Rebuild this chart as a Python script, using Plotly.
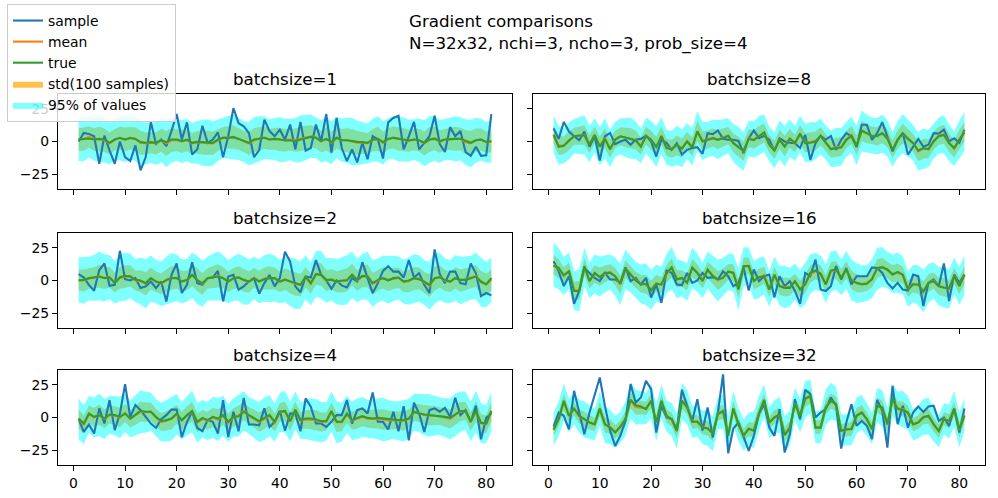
import plotly.graph_objects as go

x_vals = list(range(1, 82))
x_ticks = [0, 10, 20, 30, 40, 50, 60, 70, 80]
y_ticks = [-25, 0, 25]
batch_labels = ["batchsize=1", "batchsize=8", "batchsize=2", "batchsize=16", "batchsize=4", "batchsize=32"]

# ---------------- batchsize=1 ----------------
sample_bs1 = [0, 6.5, 5.8, 4, -17, 4.5, -7, -17, 0, -12,
              -15, -3, -22, -12, 15, -2, 1.5, -3.5, 8, 21,
              1.5, 14.6, -10, -6, 12, -1, 1.5, 7, -12, 4,
              25.5, 14, 11.6, 6.5, -12, -6.5, 16.7, 8, 4, 9,
              1.5, 13, -6, 15, -7, -5, 13, 0, 21, -8.5,
              18, -5, -15, -6, -16, -1, -13.6, 4, 1.5, -13,
              14.6, 18, 19.7, -6, 4, 15, -6, -1, 4, 19.7,
              -2, -8, 11, 4, 8, -8, -11, -4, -11, -10.6,
              21]
true_bs1 = [1.5, 2, 2.3, 1.5, 2, 1.5, -1, 1.5, 2.8, 1.5,
            2.8, 2, -0.5, -1, -0.5, -1, 1, -0.5, 1.5, 1.5,
            0.3, 1.5, -1, -0.3, -0.5, -0.5, -1, 1.5, 2.8, 2.8,
            3.3, 2, 0.3, -1, 1.5, 2, 2.8, 1.5, 2, 1.5,
            0.8, 1, 0.3, 1.5, 2.8, 3.5, 2.8, 0.3, 2, -0.5,
            2.8, 1, 1, 0.3, -0.3, -0.5, -1, 1.5, 2, -0.5,
            2, 2.8, 2, 1.5, 0.8, 1.5, 1, -1, 1.5, 2,
            0.3, 1.5, 2, 2, 2, 0.3, -1, 1, 1.5, -0.3,
            0.3]
mean_bs1 = [1.5, 2, 3.5, 1.5, 2, 1, -1.5, 1.5, 2.5, 1.5,
            2.5, 2, -1, -1.5, -1, -1.5, 1, -1.5, 1, 1,
            0, 1, -1.5, -0.5, -1, -1, -1.5, 1, 3, 3,
            3.5, 2, 0, -1.5, 1, 2, 3, 1.5, 2, 1.5,
            1, 1.5, 1, 2, 3, 4, 3, 0, 2, -1,
            3, 1, 1, 0, -1, -1, -1.5, 1, 2, -1,
            2, 3, 2, 1.5, 0.5, 1.5, 1, -1.5, 1.5, 2.5,
            0, 1.5, 2, 2, 2, -0.5, -1.5, 1, 1.5, -0.5,
            0]
std_bs1 = [8.5, 9, 8.2, 8.7, 9.4, 9, 8.3, 8.1, 8.8, 9.2,
           8.6, 8.9, 9.3, 8.4, 7.9, 8.5, 8.8, 9.6, 9.1, 8.2,
           8.7, 8.4, 8, 8.6, 9.2, 9.5, 8.9, 8.3, 8.1, 8.6,
           9, 8.4, 8.2, 8.7, 9.3, 9.1, 8.5, 8, 8.4, 9,
           8.6, 8.3, 8.9, 9.4, 9.2, 8.7, 8.1, 8.4, 8.9, 8.5,
           8.2, 8.6, 9.1, 9.6, 9, 8.4, 8, 8.5, 9.2, 8.7,
           8.1, 8.6, 9, 8.8, 8.3, 8.1, 8.7, 9.2, 9.5, 9,
           8.6, 8.2, 8.5, 9.1, 8.7, 9.2, 9.6, 9, 8.4, 8.1,
           8.5]
q95_bs1 = [16.5, 17, 15.8, 16.2, 17.5, 17, 16, 15.5, 16.8, 17.4,
           16.3, 16.9, 17.6, 16, 15.2, 16.4, 16.9, 18, 17.3, 15.8,
           16.5, 16.1, 15.5, 16.4, 17.5, 18, 17, 15.9, 15.6, 16.4,
           17.2, 16.1, 15.7, 16.6, 17.7, 17.3, 16.3, 15.4, 16.2, 17.1,
           16.4, 15.9, 17, 17.8, 17.5, 16.6, 15.6, 16.1, 17, 16.3,
           15.7, 16.4, 17.3, 18.2, 17.1, 16.1, 15.3, 16.3, 17.5, 16.6,
           15.6, 16.4, 17.2, 16.8, 15.9, 15.5, 16.6, 17.5, 18, 17.2,
           16.4, 15.7, 16.2, 17.3, 16.6, 17.5, 18.2, 17.2, 16.1, 15.5,
           16.2]

# ---------------- batchsize=8 ----------------
sample_bs8 = [10, 2, 15, 7.6, 4, 1, 7.6, -4, 4, -14.5,
              4, 6.4, -2, 0, 1.3, -2.5, 1.3, 2, 4.3, 0,
              -11.5, 1.3, -1, -6.4, -1.3, -10, -6.4, -5, -4.3, -9.4,
              6.4, 5.6, 8.4, 2, 1.3, 1.3, 0.5, -9, 2.5, 8.4,
              2.5, 4.3, 1.3, -7, 2.5, 0, -1, -1.3, -5, 5,
              -14, -1.3, 4.3, 1.3, 4.3, -6.4, 1.3, 6.4, 4, -4.3,
              12.8, 12.8, 1.3, 6.4, 14.8, 4.3, -7.6, 1.3, 6.4, -10,
              -4, 2, -4, -2.5, 6.4, 6, 9, 0, 2.5, -1,
              9]
true_bs8 = [5, -4, -3.3, 0.8, 4, 4.6, 4.6, -2.5, 5, -4,
            2, -6, 1.3, 4, 3, 2, 0.8, -4, 4.3, 1.3,
            -4.3, 4, -5, -6, -2.5, -5.6, 0, -4.6, 7.6, 0,
            1.3, 2.5, 1.3, 2.5, 4.3, -1.3, -4.3, -7, 2, 1,
            4, 7, -2.5, -7, 1.3, -4, 2, -1, 6, -1.3,
            -1, 0, 4.3, -1.3, -6, -5, -4.6, 1.3, 4.3, -3.3,
            8.4, 6.4, 4, 4.3, 6.4, 2, -6.4, 1.3, 6.4, 2,
            -1.3, -7, -5, -6, 0, 4, 5, -1.3, -5, 1.3,
            7]
mean_bs8 = [5.5, -3, -3, 0.5, 4, 4.5, 5, -2, 5, -3.5,
            2.5, -5.5, 1.5, 4, 3, 2.5, 1, -3.5, 4.5, 1,
            -4, 4.5, -4.5, -5.5, -3, -5, 0.5, -4, 8, 0.5,
            1.5, 3, 1.5, 3, 4.5, -1, -4, -7.5, 2.5, 1.5,
            4.5, 6.5, -2, -6.5, 1.5, -3.5, 2.5, -1.5, 5.5, -1,
            -0.5, 0.5, 4, -1, -5.5, -4.5, -4, 1.5, 5, -3,
            8, 6, 4.5, 4, 6, 2.5, -6, 1.5, 6, 2.5,
            -1, -7.5, -5.5, -5.5, 0.5, 4.5, 5.5, -1, -5.5, 1.5,
            7.5]
std_bs8 = [7, 7.4, 6.8, 7.2, 6.6, 7, 7.5, 6.9, 6.5, 7.3,
           7.6, 7.1, 6.7, 6.9, 7.4, 7.8, 7.2, 6.6, 6.8, 7.3,
           7.7, 7, 6.6, 6.9, 7.5, 7.2, 6.8, 7.1, 7.6, 7.3,
           6.7, 6.9, 7.4, 7, 6.6, 7.2, 7.7, 7.3, 6.8, 7,
           7.5, 7.1, 6.6, 6.9, 7.4, 7.8, 7.2, 6.7, 7, 7.3,
           7.6, 7.1, 6.8, 6.5, 7, 7.4, 7.1, 6.7, 6.9, 7.5,
           7.8, 7.2, 6.8, 7, 7.3, 6.9, 6.6, 7.1, 7.5, 7.2,
           6.8, 7.4, 7.7, 7.1, 6.7, 6.9, 7.3, 7, 6.6, 7.2,
           7.4]
q95_bs8 = [14, 14.8, 13.6, 14.3, 13.2, 14.1, 15, 13.8, 13, 14.6,
           15.2, 14.2, 13.4, 13.8, 14.8, 15.6, 14.4, 13.2, 13.6, 14.6,
           15.4, 14, 13.2, 13.8, 15, 14.4, 13.6, 14.2, 15.2, 14.6,
           13.4, 13.8, 14.8, 14, 13.2, 14.4, 15.4, 14.6, 13.6, 14,
           15, 14.2, 13.2, 13.8, 14.8, 15.6, 14.4, 13.4, 14, 14.6,
           15.2, 14.2, 13.6, 13, 14, 14.8, 14.2, 13.4, 13.8, 15,
           15.6, 14.4, 13.6, 14, 14.6, 13.8, 13.2, 14.2, 15, 14.4,
           13.6, 14.8, 15.4, 14.2, 13.4, 13.8, 14.6, 14, 13.2, 14.4,
           14.8]

# ---------------- batchsize=2 ----------------
sample_bs2 = [4.8, 2.3, -3.3, -7.8, 8, 13, -4, -3.3, 22.7, 1,
              0, 1.8, -5.8, -4.5, -0.8, -5.8, -0.8, -16, 4.3, 13,
              -9.6, -3.3, 14, -2, -3.3, 1.8, 2.3, 7.3, -16, 3,
              4.3, -7, -4.5, -0.8, 1.8, -10, -2, 4.3, -4.5, 1.8,
              22, 14.4, -4.5, -9, 3, 2.3, 15.6, 4.3, 0, -6.3,
              0, -3.8, -5.3, 1.8, -0.8, 14, 1.8, -9.6, -2, 7.3,
              11, 6.8, 6.8, 2.3, 15.6, 2.3, 5.5, -3.3, -9.6, 23.7,
              4.8, -2, 6.8, 6.8, -2, -2.8, 13, 5.5, -12, -9.6,
              -11.4]
true_bs2 = [0, 0.5, 1.8, 2.5, 3, 1.8, 2.3, -2, 2.5, 3.5,
            3, 0.5, 0, -2, 1.8, -0.8, -2, 0.5, 1.8, 1.8,
            -0.8, 0.5, 4.3, 0, -2, 1.8, 2.3, 3, 1.8, -0.8,
            1.8, 2.3, 0.5, -0.8, 1.8, -0.8, 1, 1.8, 1.8, -0.8,
            0.5, -0.8, -2, -3.3, 3, -2, 4.8, 4.3, 0.5, 0.5,
            -0.8, 0, 0, 4.3, 0.5, 3.5, 3, -2, 0.5, 1.8,
            0, 1.8, 2.3, -0.8, 0, 1.8, 1, -0.8, -3.3, 1.8,
            2.5, 0.5, -0.8, 1.8, 0.5, 0.5, 1.8, 3, -0.8, -2.8,
            1.8]
mean_bs2 = [0.5, 0, 1.5, 2, 3.5, 2, 2.5, -1.5, 2, 3,
            3.5, 0, -0.5, -2.5, 1.5, -1, -2.5, 0, 2, 2,
            -0.5, 0, 4, 0.5, -2.5, 1.5, 2.5, 3.5, 2, -1,
            1.5, 2.5, 0, -1, 2, -0.5, 1.5, 2, 1.5, -1,
            1, -1, -2.5, -3.5, 2.5, -2.5, 5, 4.5, 0, 1,
            -1, -0.5, 0.5, 4.5, 0, 3, 3.5, -2.5, 0, 2,
            0.5, 1.5, 2, -1, -0.5, 1.5, 1.5, -1.5, -4, 1.5,
            3, 0, -1, 2, 0, 1, 2, 3.5, -1.5, -3,
            0.5]
std_bs2 = [8, 8.4, 7.8, 8.2, 8.8, 8.5, 7.9, 7.6, 8.3, 8.7,
           8.1, 7.7, 8.4, 8.9, 8.3, 7.8, 8, 8.6, 9, 8.4,
           7.9, 7.6, 8.2, 8.7, 8.3, 7.9, 8.5, 8.9, 8.2, 7.7,
           8, 8.5, 8.8, 8.1, 7.6, 7.9, 8.4, 8.8, 8.3, 7.8,
           8.2, 8.7, 9.1, 8.5, 7.9, 7.7, 8.3, 8.6, 8, 7.6,
           8.1, 8.6, 8.9, 8.3, 7.8, 8.2, 8.7, 8.4, 7.9, 8.1,
           8.6, 8.2, 7.7, 7.9, 8.5, 8.9, 8.4, 8, 8.7, 9.2,
           8.5, 8, 7.7, 8.2, 8.6, 8.3, 7.9, 8.4, 8.8, 8.2,
           8]
q95_bs2 = [17.2, 17.8, 16.6, 17.4, 18.6, 18, 16.8, 16.2, 17.6, 18.4,
           17.2, 16.4, 17.8, 18.8, 17.6, 16.6, 17, 18.2, 19, 17.8,
           16.8, 16.2, 17.4, 18.4, 17.6, 16.8, 18, 18.8, 17.4, 16.4,
           17, 18, 18.6, 17.2, 16.2, 16.8, 17.8, 18.6, 17.6, 16.6,
           17.4, 18.4, 19.2, 18, 16.8, 16.4, 17.6, 18.2, 17, 16.2,
           17.2, 18.2, 18.8, 17.6, 16.6, 17.4, 18.4, 17.8, 16.8, 17.2,
           18.2, 17.4, 16.4, 16.8, 18, 18.8, 17.8, 17, 18.4, 19.4,
           18, 17, 16.4, 17.4, 18.2, 17.6, 16.8, 17.8, 18.6, 17.4,
           17]

# ---------------- batchsize=16 ----------------
sample_bs16 = [14.7, 7, -4.3, 3.3, -17.8, -8, 9.6, 5.8, 2, -0.5,
               5.8, 0.8, 0.8, -1.8, 10, -0.5, 2, -3, 2, -13,
               -3, -17, 7.6, 5.8, -3, -3.5, 5.8, -1.8, 0, 5.8,
               2, 2.5, 0.8, 7, 3.3, -4.3, -1.8, 9.6, -7.6, 8.4,
               -0.5, 3.3, 4.5, -13, 3.3, -4.3, -0.5, -8, -17.8, 5.8,
               3.3, 16, -6.9, -8, -4.3, 11, 0.8, 9.6, -3, 3.3,
               3.3, 3.3, 10, 9.6, 5.8, -1.8, -6, -1.8, -6.9, -7.6,
               4.5, 3.3, -19.5, -1.8, 0.8, -4.3, 13, -15.7, 4.5, -1.8,
               4.5]
true_bs16 = [11.4, 9.6, 4, 7, -8, -8, 11, -0.5, 5.8, 2.5,
             5.8, 5.8, 3.3, -2.5, 9, 4.5, 0, -3, -2.5, -7.6,
             -2.5, -3, 5.8, 10, 0.8, 2, -1.8, 10, 5.8, -0.5,
             8.4, 3.3, 0.8, 2, 7, 5.8, -6.9, 11, 11, -0.5,
             2.5, 3.3, -6.9, 4.5, -4.3, -5.6, -5.6, -0.5, -6.9, -3,
             5.8, 7.6, 5, -3, 7.6, 8.4, 2, 8.4, 0, -1.8,
             -3, -2.5, 0.8, 9.6, 10, 8.4, 4.5, 6.6, 4.5, -6.9,
             -3, -3, -8.6, -1.8, -0.5, -4.3, -5.6, -6, 3.3, -4.3,
             4.5]
mean_bs16 = [12, 9, 3.5, 7.5, -7.5, -7.5, 10.5, 0, 5, 3,
             5, 6.5, 3, -3, 8.5, 5, 0.5, -2.5, -3, -7,
             -2, -3.5, 5, 9.5, 1.5, 1.5, -1, 9.5, 6, 0,
             8, 4, 0, 2.5, 6.5, 6, -6.5, 10.5, 11.5, 0,
             2, 4, -6.5, 4, -4, -5, -5, -1, -6.5, -2.5,
             5, 7, 5.5, -2.5, 7, 8, 2.5, 8, 0.5, -2,
             -2.5, -2, 1.5, 9, 10.5, 8, 5, 6, 4, -6.5,
             -2.5, -3.5, -8, -2, 0, -4.5, -5, -6.5, 3.5, -4,
             4]
std_bs16 = [7.5, 7, 6.6, 6.2, 6.8, 7.2, 6.5, 6.1, 6.7, 7,
            6.4, 6, 6.6, 7.1, 6.8, 6.3, 6.1, 6.7, 7.2, 6.9,
            6.4, 6.2, 6.8, 7.3, 6.7, 6.2, 6.5, 7, 6.6, 6.1,
            6.4, 6.9, 7.2, 6.6, 6.2, 6.5, 7.1, 6.8, 6.3, 6.6,
            7, 6.5, 6.1, 6.4, 6.9, 7.3, 6.7, 6.2, 6.6, 7.1,
            6.8, 6.3, 6.1, 6.6, 7, 6.7, 6.2, 6.5, 7.1, 6.9,
            6.4, 6.1, 6.7, 7.2, 6.8, 6.3, 6.6, 7, 6.5, 6.1,
            6.5, 6.9, 7.3, 6.7, 6.2, 6.6, 7, 6.8, 6.3, 6.5,
            6.8]
q95_bs16 = [17, 15.6, 14.6, 13.8, 15, 16, 14.4, 13.6, 14.8, 15.4,
            14.2, 13.4, 14.6, 15.8, 15, 14, 13.6, 14.8, 16, 15.2,
            14.2, 13.8, 15, 16.2, 14.8, 13.8, 14.4, 15.4, 14.6, 13.6,
            14.2, 15.2, 16, 14.6, 13.8, 14.4, 15.8, 15, 14, 14.6,
            15.4, 14.4, 13.6, 14.2, 15.2, 16.2, 14.8, 13.8, 14.6, 15.8,
            15, 14, 13.6, 14.6, 15.4, 14.8, 13.8, 14.4, 15.8, 15.2,
            14.2, 13.6, 14.8, 16, 15, 14, 14.6, 15.4, 14.4, 13.6,
            14.4, 15.2, 16.2, 14.8, 13.8, 14.6, 15.4, 15, 14, 14.4,
            15]

# ---------------- batchsize=4 ----------------
sample_bs4 = [-1.3, -11, -5.4, -12.3, 7, -4.6, 13.3, -9.7, 3, 25.4,
              0.5, 9.5, 5.6, 0.5, -4.6, -8, -1.3, 1.8, 6, 6,
              -15, -3.3, 4.4, -8, -10.5, -2, -3.3, -12.3, 13.3, -15,
              4.4, -10.5, 15, -5.4, -5.4, -6, 7, -7.2, -3.3, 5,
              -10, 3, 3, -10.5, 14.6, 8.2, -4.6, -4.6, -7.2, -3.3,
              1.8, 1.8, 13.3, -4.6, 5.6, 7, 3, 19.2, -3.3, -3.3,
              -9.2, 4.4, -10.5, 8.7, -17.4, 11.3, 3, -11, 5.6, 7,
              4.4, 7.4, 0.5, 15, 1.8, 5.6, -3.3, 9, -16.7, -0.3,
              3]
true_bs4 = [-0.8, -4.6, 3, 0.5, 1.8, -0.8, 2.3, 1.8, 0.5, 3,
            -0.8, 1.8, 5, 4.4, 4.4, 0.5, -2.8, -2, -0.8, 3,
            -2, 1.8, 5, -3.3, -0.3, -2, 0.5, -0.8, 1.8, -3.3,
            0.5, 1, 4.4, 1.8, -0.8, -2.8, -0.3, 1.8, -3.3, 4.4,
            5, -2.8, 6, -2, -0.8, -0.8, -1.5, -2.8, -2.8, 5,
            -3.3, -3.3, 3, -2, -0.3, 1, -0.3, -0.8, -0.3, -0.8,
            -1.3, -1.5, -2, -2, -0.8, 4.4, 3, 2.3, 1.8, 1.8,
            1.3, 0.5, -0.3, 2.3, 5, 5, -3.3, 5, -4.1, -4.6,
            5]
mean_bs4 = [-1, -5.5, 2.5, 0, 2, -1, 2, 1.5, 0, 3.5,
            -1, 1.5, 4.5, 4, 4.5, 0, -3.5, -2.5, -1, 2.5,
            -2.5, 1.5, 4.5, -4, -1, -2.5, 0, -1.5, 1.5, -4,
            0, 1.5, 5, 1.5, -1, -3.5, -1, 1.5, -4, 4,
            4.5, -3, 5.5, -2.5, -1.5, -1.5, -2, -3.5, -3, 4.5,
            -3.5, -3.5, 2.5, -2.5, -1, 0.5, -1, -1, -1, -1.5,
            -2, -2, -2.5, -2.5, -1, 4, 3.5, 2, 1.5, 1.5,
            1, 0, -1, 2, 4.5, 5, -3, 4.5, -4.5, -5,
            4.5]
std_bs4 = [7.4, 7, 6.6, 7.2, 7.7, 7.3, 6.8, 7.1, 7.5, 6.9,
           6.6, 7.2, 7.8, 7.4, 6.9, 6.6, 7, 7.5, 7.9, 7.3,
           6.8, 7.1, 7.6, 7.2, 6.7, 6.9, 7.4, 7.8, 7.2, 6.8,
           7, 7.5, 7.1, 6.6, 6.9, 7.3, 7.7, 7.4, 6.9, 7.1,
           7.6, 7.2, 6.8, 6.6, 7.1, 7.5, 7.8, 7.3, 6.9, 7.2,
           7.6, 7.1, 6.7, 6.9, 7.4, 7.2, 6.8, 7, 7.5, 7.9,
           7.3, 6.8, 7.1, 7.5, 7.2, 6.7, 6.9, 7.4, 7.7, 7.2,
           6.8, 7, 7.4, 7.8, 7.3, 6.9, 7.1, 7.6, 7.2, 6.8,
           7.1]
q95_bs4 = [15.6, 14.8, 14, 15.2, 16.2, 15.4, 14.4, 15, 15.8, 14.6,
           14, 15.2, 16.4, 15.6, 14.6, 14, 14.8, 15.8, 16.6, 15.4,
           14.4, 15, 16, 15.2, 14.2, 14.6, 15.6, 16.4, 15.2, 14.4,
           14.8, 15.8, 15, 14, 14.6, 15.4, 16.2, 15.6, 14.6, 15,
           16, 15.2, 14.4, 14, 15, 15.8, 16.4, 15.4, 14.6, 15.2,
           16, 15, 14.2, 14.6, 15.6, 15.2, 14.4, 14.8, 15.8, 16.6,
           15.4, 14.4, 15, 15.8, 15.2, 14.2, 14.6, 15.6, 16.2, 15.2,
           14.4, 14.8, 15.6, 16.4, 15.4, 14.6, 15, 16, 15.2, 14.4,
           15]

# ---------------- batchsize=32 ----------------
sample_bs32 = [-6.9, 3.8, 1.3, -9, 20.4, 3.8, -12.8, 3.8, 16.6, 30.6,
               9, -10, -21.7, -14, -2.6, 25.5, 11.5, 15.3, 28, 21.7,
               -11.5, 9, 0, -1.3, -9, 21.2, 9, -2.6, 14, -10,
               7.7, -15.3, 3.8, 33, -27.3, -8.4, -3.8, -14, -25.5, -14,
               3, 10, -7.7, -14, 6.4, -26.8, -12.8, 14, -1.3, 21.2,
               17.9, 0, 3.8, 6.4, 15.3, 9, -23.7, -3.8, 10.2, -6.4,
               -2.6, -6.4, -16.6, 13.5, 5.1, -23, 24.2, -5.1, 9, -7.7,
               3.8, 8.4, 4.3, 8.4, 9, -2.6, 0, -6.4, 6.9, -11.5,
               6.9]
true_bs32 = [-9.4, -1.3, 12.8, 1.3, 6.9, 1.3, -1.3, -3.8, -5.1, 6.9,
             -5.1, -7.7, -11.5, -6.9, -1.3, 13.5, 9.4, 8.4, 6.4, 12.8,
             -3.8, 12.8, 1.3, -1.3, -10.2, 12.8, 7.7, -3.3, -3.3, -7.7,
             -8.4, -12, 2.6, 5.1, -14, 6.9, -5.1, -14, -8.4, -10.2,
             3, 13.5, -3.8, 0, 2.6, -13.5, -7.7, 10.2, 1.3, 14.5,
             16.6, -7.7, -7.7, 7.7, 12.8, 10.2, -10.2, -9, -9, 1.3,
             3.8, -1.3, -9, 9, 7.7, -5.1, 14.5, 6.4, 5.9, 3.8,
             -5.1, -3.8, 0, 1.3, -5.1, -10.2, -1.3, -2.6, 6.4, -9,
             1.3]
mean_bs32 = [-9, -1, 12, 1.5, 6.5, 1, -1.5, -3.5, -5.5, 6.5,
             -5.5, -7, -11, -7.5, -1, 13, 8, 7.5, 7, 12.5,
             -4, 12.5, 1, -1.5, -10.5, 12.5, 8, -3.5, -3, -7.5,
             -8, -12.5, 3, 4.5, -13.5, 7, -5.5, -13.5, -9, -9.5,
             3.5, 13, -4, 0.5, 2, -13, -8, 10.5, 1.5, 14,
             16, -7.5, -7, 8, 12.5, 10.5, -10, -9.5, -8.5, 1.5,
             4, -1.5, -8.5, 9.5, 7, -5.5, 13.5, 7, 6.5, 3.5,
             -5.5, -3.5, 0.5, 1, -5.5, -10.5, -1, -3, 6.5, -9.5,
             2]
std_bs32 = [5.2, 5.6, 6, 5.4, 5, 5.3, 5.8, 5.5, 5.1, 5.4,
            5.9, 5.6, 5.2, 5, 5.5, 5.9, 5.7, 5.3, 5.1, 5.6,
            6, 5.4, 5.1, 5.3, 5.7, 5.9, 5.5, 5.2, 5, 5.4,
            5.8, 5.6, 5.2, 5.5, 6, 5.7, 5.3, 5.1, 5.4, 5.8,
            5.6, 5.2, 5, 5.3, 5.7, 6, 5.6, 5.2, 5.4, 5.8,
            5.5, 5.1, 5.3, 5.7, 5.9, 5.5, 5.2, 5, 5.4, 5.8,
            5.6, 5.3, 5.1, 5.5, 5.9, 5.6, 5.2, 5.4, 5.8, 5.5,
            5.1, 5.3, 5.7, 5.9, 5.4, 5.2, 5, 5.5, 5.8, 5.6,
            5.3]
q95_bs32 = [12.4, 13.4, 14.2, 12.8, 11.8, 12.6, 13.8, 13, 12, 12.8,
            14, 13.2, 12.2, 11.8, 13, 14, 13.4, 12.6, 12, 13.2,
            14.2, 12.8, 12, 12.6, 13.6, 14, 13, 12.2, 11.8, 12.8,
            13.8, 13.2, 12.2, 13, 14.2, 13.4, 12.6, 12, 12.8, 13.8,
            13.2, 12.2, 11.8, 12.6, 13.6, 14.2, 13.2, 12.2, 12.8, 13.8,
            13, 12, 12.6, 13.6, 14, 13, 12.2, 11.8, 12.8, 13.8,
            13.2, 12.6, 12, 13, 14, 13.2, 12.2, 12.8, 13.8, 13,
            12, 12.6, 13.6, 14, 12.8, 12.2, 11.8, 13, 13.8, 13.2,
            12.6]

panels = [
    (sample_bs1, mean_bs1, true_bs1, std_bs1, q95_bs1),
    (sample_bs8, mean_bs8, true_bs8, std_bs8, q95_bs8),
    (sample_bs2, mean_bs2, true_bs2, std_bs2, q95_bs2),
    (sample_bs16, mean_bs16, true_bs16, std_bs16, q95_bs16),
    (sample_bs4, mean_bs4, true_bs4, std_bs4, q95_bs4),
    (sample_bs32, mean_bs32, true_bs32, std_bs32, q95_bs32),
]

W, H = 998, 498
col_px = [(58, 512), (533, 985)]
row_px = [(94, 189), (233, 328), (370, 465)]

BLUE, ORANGE, GREEN = "#1f77b4", "#ff7f0e", "#2ca02c"
STD_FILL = "rgba(255,165,0,0.7)"
Q_FILL = "rgba(0,255,255,0.5)"
FONT = "DejaVu Sans"

fig = go.Figure()
layout = dict(
    width=W, height=H, margin=dict(l=0, r=0, t=0, b=0),
    paper_bgcolor="white", plot_bgcolor="white",
    font=dict(family=FONT, size=13.9, color="black"),
    showlegend=True,
    legend=dict(x=7 / W, y=1 - 4 / H, xanchor="left", yanchor="top",
                bgcolor="rgba(255,255,255,0.8)", bordercolor="#cccccc", borderwidth=1,
                font=dict(family=FONT, size=13.9, color="black"),
                tracegroupgap=0, itemwidth=30),
)
annotations = []

for k, (samp, mean, true, std, q95) in enumerate(panels):
    r, c = divmod(k, 2)
    xa = "x" if k == 0 else f"x{k+1}"
    ya = "y" if k == 0 else f"y{k+1}"
    x0, x1 = col_px[c]
    y0, y1 = row_px[r]
    xdom = [x0 / W, x1 / W]
    ydom = [1 - y1 / H, 1 - y0 / H]
    axkey = "xaxis" if k == 0 else f"xaxis{k+1}"
    aykey = "yaxis" if k == 0 else f"yaxis{k+1}"
    layout[axkey] = dict(domain=xdom, anchor=ya, range=[-3, 85], tickmode="array",
                         tickvals=x_ticks, ticks="outside", ticklen=5, tickwidth=1.1,
                         tickcolor="black", showline=True, linecolor="black", linewidth=1.1,
                         mirror=True, showgrid=False, zeroline=False,
                         showticklabels=(r == 2), tickfont=dict(size=13.9, family=FONT))
    layout[aykey] = dict(domain=ydom, anchor=xa, range=[-36.3, 36.3], tickmode="array",
                         tickvals=y_ticks, ticks="outside", ticklen=5, tickwidth=1.1,
                         tickcolor="black", showline=True, linecolor="black", linewidth=1.1,
                         mirror=True, showgrid=False, zeroline=False,
                         showticklabels=(c == 0), tickfont=dict(size=13.9, family=FONT))
    first = (k == 0)
    up_s = [m + s for m, s in zip(mean, std)]
    lo_s = [m - s for m, s in zip(mean, std)]
    up_q = [m + q for m, q in zip(mean, q95)]
    lo_q = [m - q for m, q in zip(mean, q95)]
    fig.add_trace(go.Scatter(x=x_vals + x_vals[::-1], y=up_s + lo_s[::-1], fill="toself",
                             fillcolor=STD_FILL, line=dict(width=0), mode="lines",
                             name="std(100 samples)", showlegend=first, legendrank=4,
                             hoverinfo="skip", xaxis=xa, yaxis=ya))
    fig.add_trace(go.Scatter(x=x_vals + x_vals[::-1], y=up_q + lo_q[::-1], fill="toself",
                             fillcolor=Q_FILL, line=dict(width=0), mode="lines",
                             name="95% of values", showlegend=first, legendrank=5,
                             hoverinfo="skip", xaxis=xa, yaxis=ya))
    fig.add_trace(go.Scatter(x=x_vals, y=samp, mode="lines", line=dict(color=BLUE, width=2.1),
                             name="sample", showlegend=first, legendrank=1, xaxis=xa, yaxis=ya))
    fig.add_trace(go.Scatter(x=x_vals, y=mean, mode="lines", line=dict(color=ORANGE, width=2.1),
                             name="mean", showlegend=first, legendrank=2, xaxis=xa, yaxis=ya))
    fig.add_trace(go.Scatter(x=x_vals, y=true, mode="lines", line=dict(color=GREEN, width=2.1),
                             name="true", showlegend=first, legendrank=3, xaxis=xa, yaxis=ya))
    annotations.append(dict(text=batch_labels[k], xref="paper", yref="paper",
                            x=(xdom[0] + xdom[1]) / 2, y=ydom[1], xanchor="center", yanchor="bottom",
                            yshift=3, showarrow=False, font=dict(family=FONT, size=16.7, color="black")))

annotations.append(dict(text="Gradient comparisons<br>N=32x32, nchi=3, ncho=3, prob_size=4",
                        xref="paper", yref="paper", x=407 / W, y=1 - 9 / H, xanchor="left",
                        yanchor="top", align="left", showarrow=False,
                        font=dict(family=FONT, size=16.7, color="black")))
layout["annotations"] = annotations
fig.update_layout(**layout)
fig.write_html("out.html", config={"displayModeBar": False},
               post_script="document.body.style.margin='0';document.body.style.padding='0';")
